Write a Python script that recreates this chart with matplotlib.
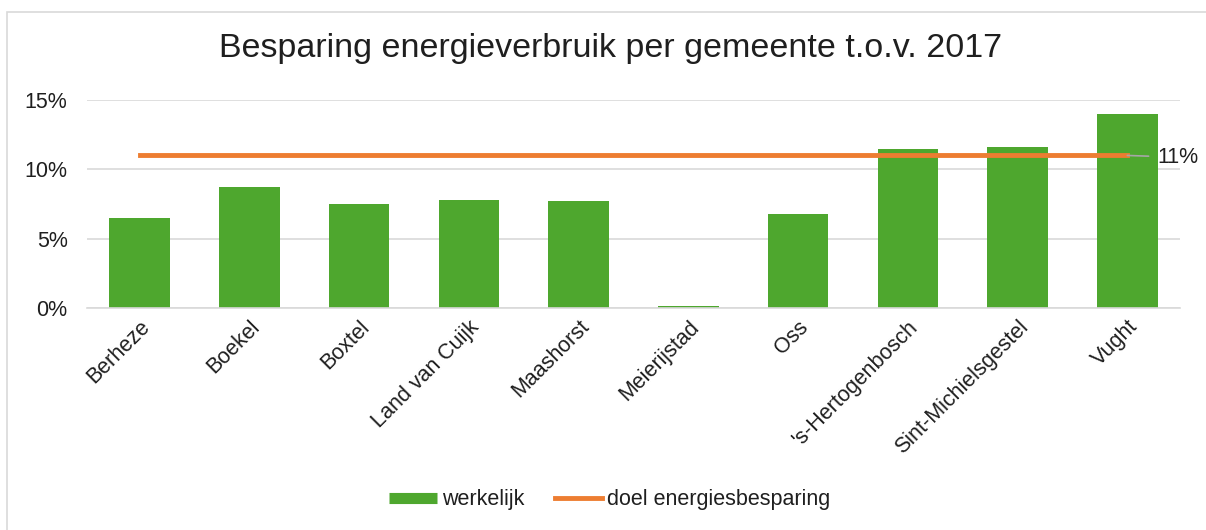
import matplotlib.pyplot as plt
from matplotlib.patches import Rectangle
from matplotlib.lines import Line2D
from matplotlib.ticker import FuncFormatter

plt.rcParams['font.family'] = ['Liberation Sans', 'DejaVu Sans']

gemeenten = ["Berheze", "Boekel", "Boxtel", "Land van Cuijk", "Maashorst",
             "Meierijstad", "Oss", "'s-Hertogenbosch", "Sint-Michielsgestel", "Vught"]
werkelijk = [6.5, 8.7, 7.5, 7.8, 7.7, 0.15, 6.8, 11.5, 11.6, 14.0]
doel = [11, 11, 11, 11, 11, 11, 11, 11, 11, 11]

green = "#4EA72E"
orange = "#ED7D31"
txt = "#1f1f1f"
fs = 15.5

fig = plt.figure(figsize=(12.06, 5.30), dpi=100)
fig.patches.append(Rectangle((7 / 1206, -0.1), 1.2, 1 - 12 / 530 + 0.1,
                             transform=fig.transFigure, fill=False,
                             edgecolor="#d9d9d9", linewidth=1.2))

ax = fig.add_axes([87 / 1206, 1 - 308 / 530, (1180 - 87) / 1206, (308 - 100) / 530])
x = range(len(gemeenten))
ax.bar(x, werkelijk, width=0.55, color=green, zorder=2)
ax.plot(x, doel, color=orange, linewidth=3.5, zorder=3)

# data label for the target line
ax.annotate(f"{doel[-1]}%", xy=(x[-1], doel[-1]), xytext=(x[-1] + 0.27, doel[-1] - 0.12),
            fontsize=fs, color=txt, va="center", ha="left",
            arrowprops=dict(arrowstyle="-", color="#a6a6a6", lw=1.2,
                            shrinkA=4, shrinkB=0))

ax.set_ylim(0, 15)
ax.set_xlim(-0.48, len(gemeenten) - 0.52)
ax.set_yticks([0, 5, 10, 15])
ax.yaxis.set_major_formatter(FuncFormatter(lambda v, p: f"{v:.0f}%"))
ax.yaxis.grid(True, color="#d9d9d9", linewidth=1.2, zorder=0)
ax.set_axisbelow(True)
for s in ["top", "right", "left"]:
    ax.spines[s].set_visible(False)
ax.spines["bottom"].set_color("#d9d9d9")
ax.spines["bottom"].set_linewidth(1.2)
ax.tick_params(axis="both", length=0, labelsize=fs, labelcolor=txt)
ax.tick_params(axis="y", pad=14)
ax.tick_params(axis="x", pad=6)
ax.set_xticks(list(x))
ax.set_xticklabels(gemeenten, rotation=45, ha="right", rotation_mode="anchor")

fig.text(0.506, 1 - 48 / 530, "Besparing energieverbruik per gemeente t.o.v. 2017",
         ha="center", va="center", fontsize=24.5, color=txt)

handles = [Line2D([], [], color=green, linewidth=8, solid_capstyle="butt"),
           Line2D([], [], color=orange, linewidth=3.5)]
fig.legend(handles, ["werkelijk", "doel energiesbesparing"],
           loc="center", bbox_to_anchor=(610 / 1206, 1 - 500 / 530), ncol=2,
           frameon=False, fontsize=fs, handlelength=2.2, handletextpad=0.25,
           columnspacing=1.4, labelcolor=txt)

fig.savefig("out.png", dpi=100)
